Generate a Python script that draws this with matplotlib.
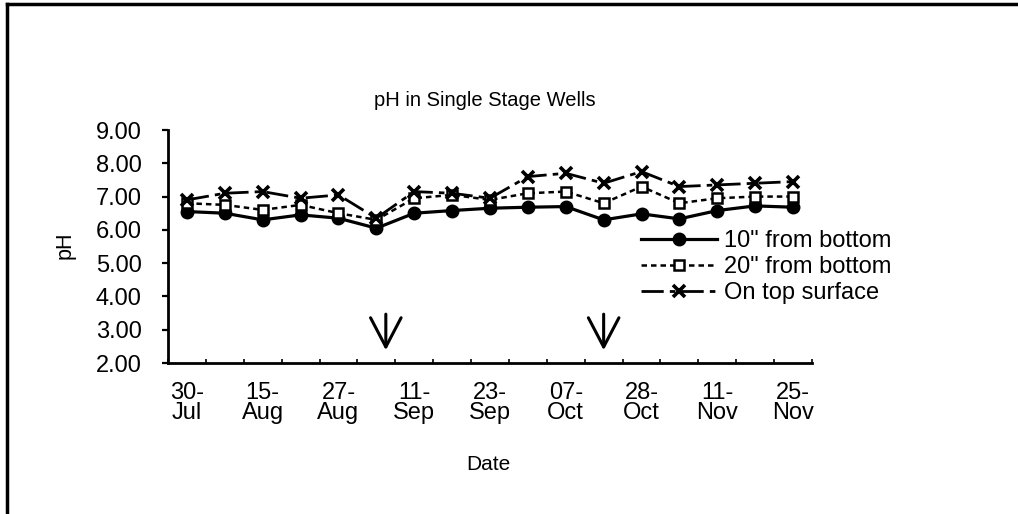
import matplotlib.pyplot as plt

plt.rcParams['font.family'] = ['Liberation Sans', 'DejaVu Sans']

# sample dates (17 samples, every other one labelled)
dates = ['30-\nJul', '', '15-\nAug', '', '27-\nAug', '', '11-\nSep', '',
         '23-\nSep', '', '07-\nOct', '', '28-\nOct', '', '11-\nNov', '', '25-\nNov']
ph_10in = [6.55, 6.50, 6.30, 6.45, 6.35, 6.05, 6.50, 6.58, 6.65,
           6.68, 6.70, 6.30, 6.48, 6.33, 6.58, 6.72, 6.68]
ph_20in = [6.80, 6.75, 6.60, 6.75, 6.50, 6.30, 6.95, 7.05, 6.90,
           7.10, 7.15, 6.80, 7.30, 6.80, 6.95, 7.00, 7.00]
ph_top = [6.90, 7.10, 7.15, 6.95, 7.05, 6.35, 7.15, 7.10, 6.95,
          7.60, 7.70, 7.40, 7.75, 7.30, 7.35, 7.40, 7.45]
labels = ['10" from bottom', '20" from bottom', 'On top surface']
# sampling events marked with arrows
arrow_pos = [5.25, 11.0]

x = list(range(len(dates)))

fig = plt.figure(figsize=(10.18, 5.14), dpi=100)
ax = fig.add_axes([168/1018, 1-363/514, (812-168)/1018, (363-130)/514])

ax.plot(x, ph_10in, color='black', lw=2.3, marker='o', ms=9, label=labels[0])
ax.plot(x, ph_20in, color='black', lw=1.8, ls=(0, (2.2, 1.6)), marker='s', ms=7,
        mfc='white', mew=1.8, label=labels[1])
ax.plot(x, ph_top, color='black', lw=2, ls=(0, (8, 2.2, 2, 2.2)), marker='x', ms=9,
        mew=2.6, label=labels[2])

for a in arrow_pos:
    ax.annotate('', xy=(a, 2.3), xytext=(a, 3.55),
                arrowprops=dict(arrowstyle='->,head_length=1.05,head_width=0.55',
                                lw=2.2, color='black', mutation_scale=20))

ax.set_xlim(-0.5, len(dates) - 0.5)
ax.set_ylim(2, 9)
ax.set_yticks([2, 3, 4, 5, 6, 7, 8, 9])
ax.set_yticklabels(['%.2f' % v for v in [2, 3, 4, 5, 6, 7, 8, 9]], fontsize=17)
ax.set_xticks(x)
ax.set_xticklabels(dates, fontsize=17, linespacing=0.85)
ax.set_xticks([i - 0.5 for i in range(len(dates) + 1)], minor=True)
ax.tick_params(axis='x', which='major', length=0, pad=14)
ax.tick_params(axis='x', which='minor', direction='in', length=3, width=1.2)
ax.tick_params(axis='y', length=4, width=1.6, pad=15)
for s in ['top', 'right']:
    ax.spines[s].set_visible(False)
ax.spines['left'].set_linewidth(2)
ax.spines['bottom'].set_linewidth(2)

fig.text(485/1018, 1-100/514, 'pH in Single Stage Wells', fontsize=14.5,
         ha='center', va='center')
fig.text(488/1018, 1-464/514, 'Date', fontsize=15, ha='center', va='center')
fig.text(65/1018, 1-245/514, 'pH', fontsize=15.5, ha='center', va='center',
         rotation=90)

ax.legend(loc='upper left', bbox_to_anchor=(641/1018, 1-230/514),
          bbox_transform=fig.transFigure, frameon=False, fontsize=17,
          handlelength=3.2, handletextpad=0.3, labelspacing=0.18,
          borderpad=0, borderaxespad=0)

# frame of the scanned figure
fig.add_artist(plt.Line2D([7/1018, 7/1018], [0, 1-4/514], color='black', lw=2.5,
                          transform=fig.transFigure))
fig.add_artist(plt.Line2D([7/1018, 1], [1-4/514, 1-4/514], color='black', lw=2.5,
                          transform=fig.transFigure))

fig.savefig('out.png', dpi=100)
